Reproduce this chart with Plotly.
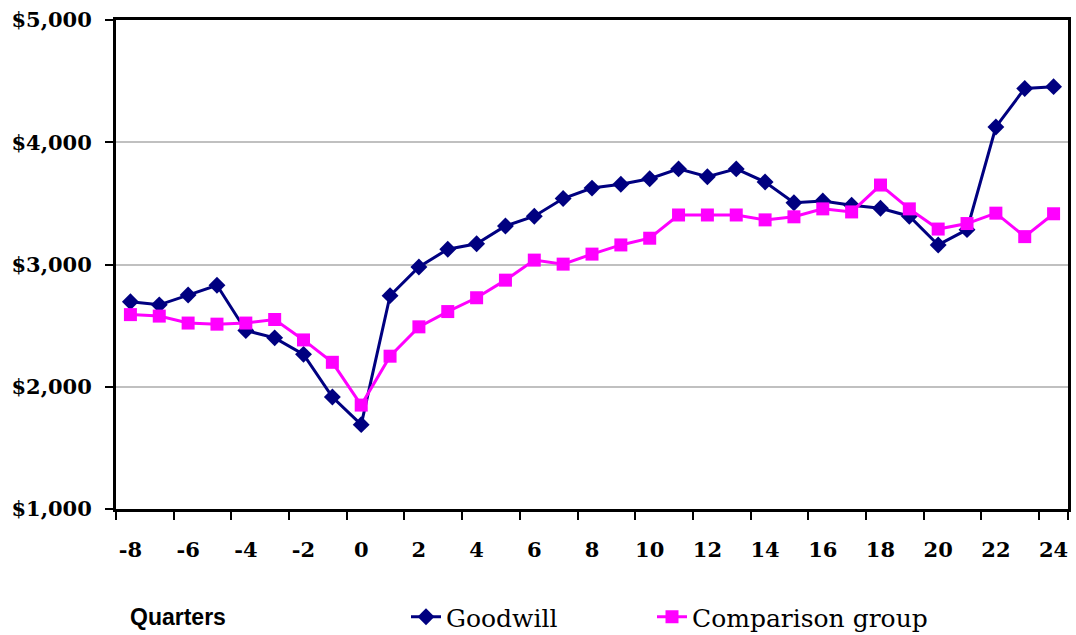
import plotly.graph_objects as go

quarters = list(range(-8, 25))
goodwill = [2695, 2670, 2750, 2830, 2460, 2400, 2265, 1916, 1690, 2745,
            2980, 3125, 3170, 3315, 3395, 3540, 3625, 3657, 3702, 3782,
            3718, 3782, 3675, 3505, 3520, 3485, 3460, 3395, 3160, 3285,
            4125, 4440, 4455]
comparison = [2590, 2578, 2521, 2512, 2521, 2550, 2383, 2200, 1850, 2250,
              2490, 2615, 2728, 2872, 3036, 3003, 3085, 3160, 3215, 3405,
              3405, 3405, 3365, 3390, 3455, 3430, 3650, 3455, 3290, 3335,
              3420, 3228, 3415]
xtick_vals = list(range(-8, 25, 2))
ytick_vals = [1000, 2000, 3000, 4000, 5000]
ytick_text = ["$1,000", "$2,000", "$3,000", "$4,000", "$5,000"]

NAVY = "#000080"
MAGENTA = "#FF00FF"

fig = go.Figure()
fig.add_trace(go.Scatter(
    x=quarters, y=goodwill, name="Goodwill", mode="lines+markers",
    line=dict(color=NAVY, width=3),
    marker=dict(symbol="diamond", size=13, color=NAVY),
    legend="legend",
))
fig.add_trace(go.Scatter(
    x=quarters, y=comparison, name="Comparison group", mode="lines+markers",
    line=dict(color=MAGENTA, width=3),
    marker=dict(symbol="square", size=13, color=MAGENTA),
    legend="legend2",
))

tickfont = dict(family="DejaVu Serif", size=21, color="black", weight="bold")

L, R, T, B = 116, 8, 20, 126
W, H = 1076, 635
plot_w = W - L - R
plot_h = H - T - B

legend_common = dict(
    orientation="h", xanchor="left",
    yref="container", y=1 - 617 / H, yanchor="middle",
    font=dict(family="DejaVu Serif", size=25, color="black"),
    bgcolor="rgba(0,0,0,0)",
)

fig.update_layout(
    width=W, height=H,
    margin=dict(l=L, r=R, t=T, b=B, autoexpand=False),
    plot_bgcolor="white", paper_bgcolor="white",
    showlegend=True,
    legend=dict(x=(406 - L) / plot_w, **legend_common),
    legend2=dict(x=(652 - L) / plot_w, **legend_common),
    xaxis=dict(
        range=[-8.5, 24.5], tickmode="array", tickvals=xtick_vals,
        ticktext=[str(v) for v in xtick_vals],
        tickfont=tickfont, automargin=False,
        showgrid=False, zeroline=False,
        showline=True, linecolor="black", linewidth=3, mirror=True,
        ticks="", ticklabelstandoff=20,
        minor=dict(tickmode="array", tickvals=[v - 0.5 for v in xtick_vals] + [24.5],
                   ticks="outside", ticklen=8, tickwidth=2, tickcolor="black", showgrid=False),
    ),
    yaxis=dict(
        range=[1000, 5000], tickmode="array", tickvals=ytick_vals, ticktext=ytick_text,
        tickfont=tickfont, automargin=False,
        showgrid=True, gridcolor="#C0C0C0", gridwidth=2, zeroline=False,
        showline=True, linecolor="black", linewidth=3, mirror=True,
        ticks="outside", ticklen=8, tickwidth=2, tickcolor="black",
        ticklabelstandoff=9,
    ),
)

fig.add_annotation(
    text="<b>Quarters</b>", xref="paper", yref="paper",
    x=(128 - L) / plot_w, y=-(617 - (H - B)) / plot_h,
    xanchor="left", yanchor="middle", showarrow=False,
    font=dict(family="Liberation Sans", size=23, color="black"),
)

fig.write_html(
    "out.html",
    config={"displayModeBar": False},
    post_script="document.body.style.margin='0';document.body.style.overflow='hidden';",
)
